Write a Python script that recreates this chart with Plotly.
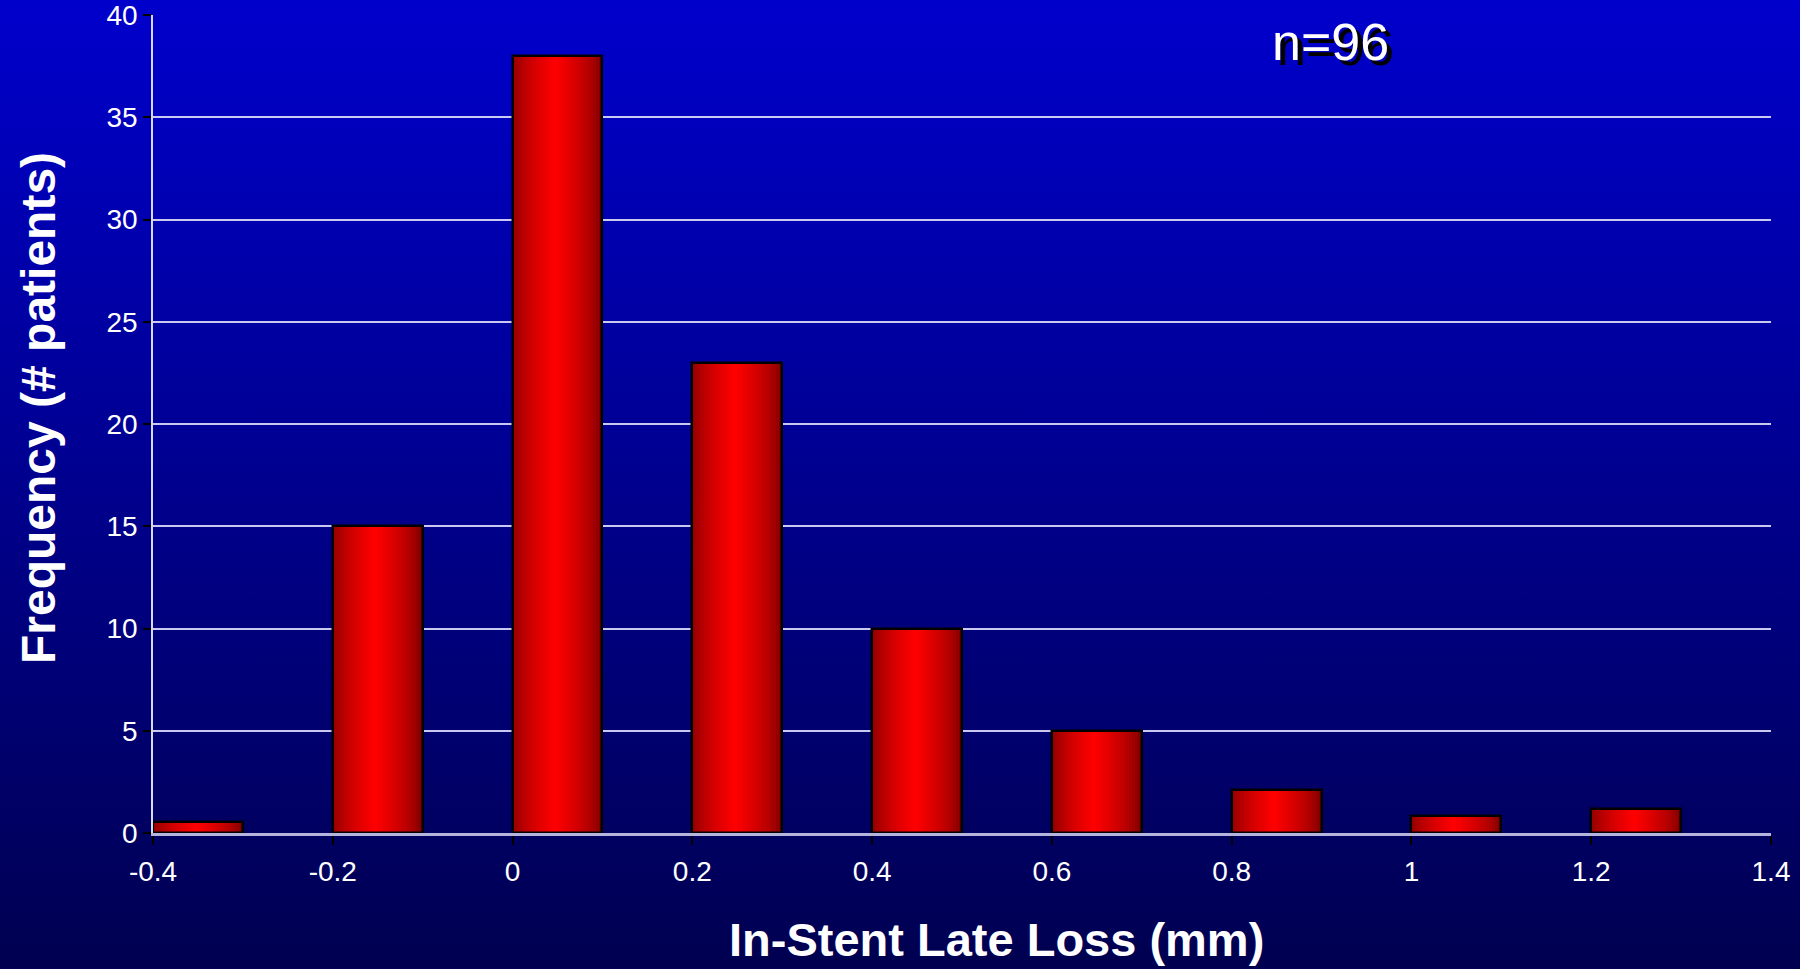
import base64
import plotly.graph_objects as go

# Histogram of in-stent late loss (mm), bins of 0.2 mm starting at each left edge
bin_left = [-0.4, -0.2, 0.0, 0.2, 0.4, 0.6, 0.8, 1.0, 1.2]
frequency = [0.55, 15, 38, 23, 10, 5, 2.1, 0.85, 1.15]
bar_width = 0.1

x_tick_values = [-0.4, -0.2, 0, 0.2, 0.4, 0.6, 0.8, 1, 1.2, 1.4]
x_tick_labels = ["-0.4", "-0.2", "0", "0.2", "0.4", "0.6", "0.8", "1", "1.2", "1.4"]
y_tick_values = [0, 5, 10, 15, 20, 25, 30, 35, 40]

W, H = 1800, 969
L, R, T, B = 153, 29, 15, 136
plot_w = W - L - R
plot_h = H - T - B

FONT = "Liberation Sans, Arial, sans-serif"

fig = go.Figure()

# Horizontal red shading on each bar: thin adjacent strips, dark at the edges, bright in the middle
N_STRIPS = 30
for k in range(N_STRIPS):
    t = (k + 0.5) / N_STRIPS
    f = max(0.0, 1.0 - abs(t - 0.48) / 0.52)
    f = f ** 0.6
    r = int(round(112 + (255 - 112) * f))
    step = bar_width / N_STRIPS
    fig.add_trace(go.Bar(
        x=[e + (k + 0.5) * step for e in bin_left],
        y=frequency,
        width=step * 1.25,
        marker=dict(color=f"rgb({r},0,0)", line=dict(width=0)),
        hoverinfo="skip",
        showlegend=False,
    ))

# Black outline of every bar
fig.add_trace(go.Bar(
    x=[e + bar_width / 2 for e in bin_left],
    y=frequency,
    width=bar_width,
    marker=dict(color="rgba(0,0,0,0)", line=dict(color="#000000", width=2.5)),
    showlegend=False,
    name="Frequency",
))

# Vertical blue page gradient
svg = (
    f'<svg xmlns="http://www.w3.org/2000/svg" width="{W}" height="{H}" '
    f'viewBox="0 0 {W} {H}" preserveAspectRatio="none">'
    '<defs><linearGradient id="g" x1="0" y1="0" x2="0" y2="1">'
    '<stop offset="0" stop-color="rgb(0,0,204)"/>'
    '<stop offset="1" stop-color="rgb(0,0,80)"/>'
    '</linearGradient></defs>'
    f'<rect width="{W}" height="{H}" fill="url(#g)"/></svg>'
)
bg_src = "data:image/svg+xml;base64," + base64.b64encode(svg.encode()).decode()

fig.add_layout_image(dict(
    source=bg_src, xref="paper", yref="paper",
    x=-L / plot_w, y=(plot_h + T) / plot_h,
    sizex=W / plot_w, sizey=H / plot_h,
    xanchor="left", yanchor="top", sizing="stretch", layer="below",
))

fig.update_layout(
    width=W, height=H,
    margin=dict(l=L, r=R, t=T, b=B, autoexpand=False),
    barmode="overlay",
    bargap=0,
    paper_bgcolor="#000066",
    plot_bgcolor="rgba(0,0,0,0)",
    font=dict(family=FONT, color="#FFFFFF"),
    showlegend=False,
    xaxis=dict(
        range=[-0.4, 1.4],
        tickmode="array", tickvals=x_tick_values, ticktext=x_tick_labels,
        tickfont=dict(size=28, color="#FFFFFF", family=FONT),
        ticks="outside", ticklen=9, tickwidth=1.5, tickcolor="#000000",
        ticklabelstandoff=3, ticklabeloverflow="allow",
        showline=True, linecolor="#B4B4DC", linewidth=2.5,
        showgrid=False, zeroline=False, automargin=False,
    ),
    yaxis=dict(
        range=[0, 40],
        tickmode="array", tickvals=y_tick_values,
        tickfont=dict(size=28, color="#FFFFFF", family=FONT),
        ticks="outside", ticklen=8, tickwidth=1.5, tickcolor="#000000",
        ticklabelstandoff=0, ticklabeloverflow="allow",
        showline=True, linecolor="#D8D8F4", linewidth=1.5,
        showgrid=True, gridcolor="#C8C8F0", gridwidth=1.5,
        zeroline=False, automargin=False,
    ),
    annotations=[
        dict(
            text="In-Stent Late Loss (mm)",
            xref="paper", yref="paper",
            x=(996 - L) / plot_w, y=(plot_h + T - 940) / plot_h,
            xanchor="center", yanchor="middle", showarrow=False,
            font=dict(size=47, family=FONT, color="#FFFFFF", weight="bold"),
        ),
        dict(
            text="Frequency (# patients)",
            xref="paper", yref="paper",
            x=(38 - L) / plot_w, y=(plot_h + T - 408) / plot_h,
            xanchor="center", yanchor="middle", textangle=-90, showarrow=False,
            font=dict(size=48, family=FONT, color="#FFFFFF", weight="bold"),
        ),
        dict(
            text="n=96",
            xref="paper", yref="paper",
            x=(1330 - L) / plot_w, y=(plot_h + T - 42) / plot_h,
            xanchor="center", yanchor="middle", showarrow=False,
            font=dict(size=52, family=FONT, color="#FFFFFF",
                      shadow="5px 5px 0px #000000"),
        ),
    ],
)

fig.write_html("out.html")
